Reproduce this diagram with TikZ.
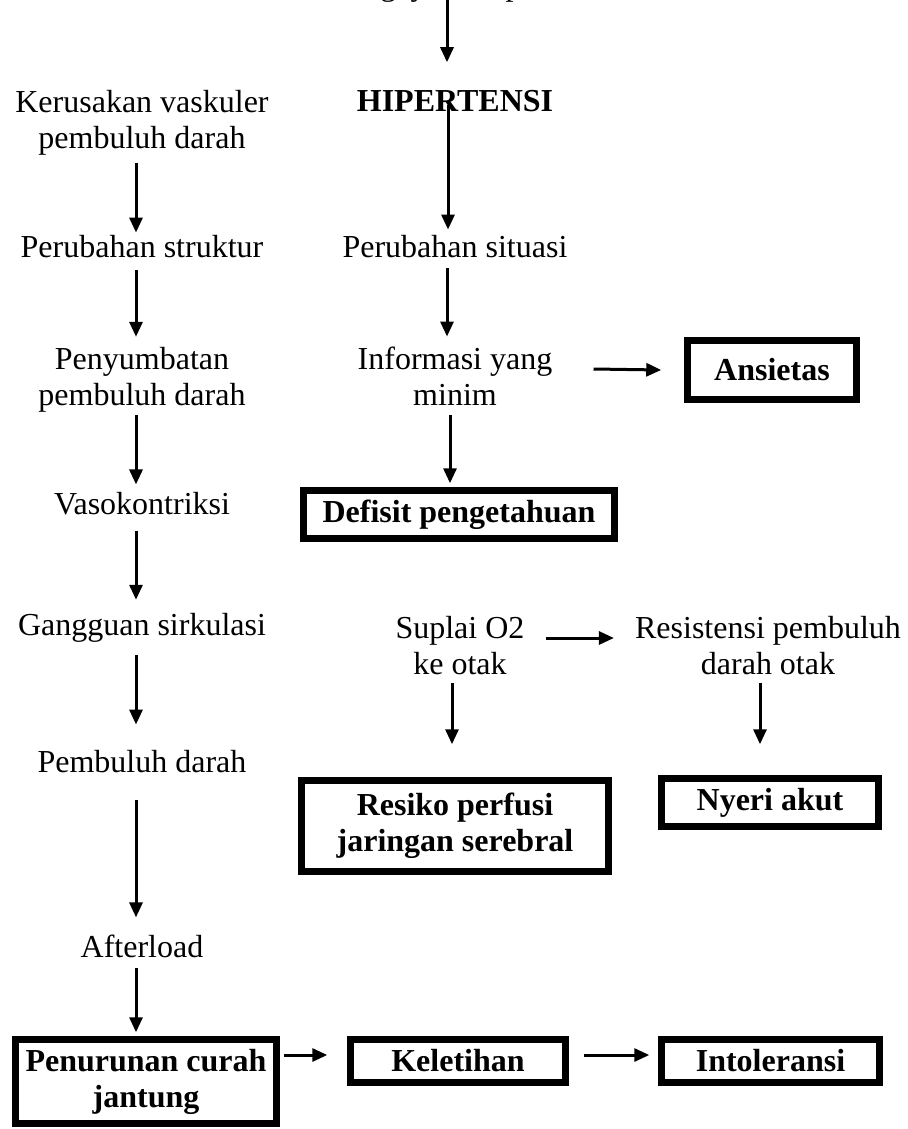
\documentclass[tikz,border=0pt]{standalone}
\usepackage{fontspec}
\setmainfont{Liberation Serif}
\usetikzlibrary{arrows.meta}
\begin{document}
\begin{tikzpicture}[x=1pt,y=-1pt,
  txt/.style={align=center,inner sep=0pt,font=\fontsize{32}{36}\selectfont},
  bx/.style={draw,line width=7.5pt,inner sep=0pt,align=center,font=\fontsize{32}{36}\selectfont\bfseries},
  arr/.style={line width=3pt,-{Triangle[length=15pt,width=13pt]}}]
\useasboundingbox (0,0) rectangle (907,1129);
\fill[white] (0,0) rectangle (907,1129);

% left column
\node[txt] (k1) at (142,122.5) {Kerusakan vaskuler\\pembuluh darah};
\node[txt] (k2) at (142,247) {Perubahan struktur};
\node[txt] (k3) at (142,379.5) {Penyumbatan\\pembuluh darah};
\node[txt] (k4) at (142,504) {Vasokontriksi};
\node[txt] (k5) at (142,628) {Gangguan sirkulasi};
\node[txt] (k6) at (142,762) {Pembuluh darah};
\node[txt] (k7) at (142,946) {Afterload};
\node[bx,minimum width=261pt,minimum height=84pt] (pen) at (146,1081.5) {Penurunan curah\\jantung};

% right column
\node[txt,anchor=base] (top) at (451,-4) {gaya hidup};
\node[txt,font=\fontsize{32}{36}\selectfont\bfseries] (hip) at (455,101.2) {HIPERTENSI};
\node[txt] (ps) at (455,247) {Perubahan situasi};
\node[txt] (inf) at (455,376) {Informasi yang\\minim};
\node[bx,minimum width=169pt,minimum height=59pt] (ans) at (772,370) {Ansietas};
\node[bx,minimum width=311pt,minimum height=48pt] (def) at (459,514.5) {Defisit pengetahuan};
\node[txt] (sup) at (460,646) {Suplai O2\\ke otak};
\node[txt] (rp) at (768,646) {Resistensi pembuluh\\darah otak};
\node[bx,minimum width=307pt,minimum height=91pt] (rsk) at (455,826) {Resiko perfusi\\jaringan serebral};
\node[bx,minimum width=217pt,minimum height=48pt] (ny) at (770,802.5) {Nyeri akut};
\node[bx,minimum width=215pt,minimum height=43pt] (kel) at (458,1061) {Keletihan};
\node[bx,minimum width=218pt,minimum height=43pt] (int) at (770.5,1061) {Intoleransi};

% left arrows
\draw[arr] ([xshift=-6pt,yshift=-8pt]k1.south) -- ([xshift=-6pt,yshift=3pt]k2.north);
\draw[arr] ([xshift=-6pt,yshift=-12pt]k2.south) -- ([xshift=-6pt,yshift=10pt]k3.north);
\draw[arr] ([xshift=-6pt,yshift=-3pt]k3.south) -- ([xshift=-6pt,yshift=8pt]k4.north);
\draw[arr] ([xshift=-6pt,yshift=-15pt]k4.south) -- ([xshift=-6pt,yshift=13.5pt]k5.north);
\draw[arr] ([xshift=-6pt,yshift=-12.5pt]k5.south) -- ([xshift=-6pt,yshift=26pt]k6.north);
\draw[arr] ([xshift=-6pt,yshift=-27pt]k6.south) -- ([xshift=-6pt,yshift=17pt]k7.north);
\draw[arr] ([xshift=-6pt,yshift=-10pt]k7.south) -- ([xshift=-10pt,yshift=3.5pt]pen.north);

% right arrows
\draw[arr] ([xshift=-4pt,yshift=5pt]top.south) -- ([xshift=-8pt,yshift=28pt]hip.north);
\draw[arr] ([xshift=-7pt,yshift=7pt]hip.south) -- ([xshift=-7pt,yshift=6pt]ps.north);
\draw[arr] ([xshift=-8pt,yshift=-10pt]ps.south) -- ([xshift=-8pt,yshift=10pt]inf.north);
\draw[arr] ([xshift=41pt,yshift=7pt]inf.east) -- ([xshift=-22.5pt,yshift=0pt]ans.west);
\draw[arr] ([xshift=-5pt,yshift=-10pt]inf.south) -- ([xshift=-9pt,yshift=3.5pt]def.north);
\draw[arr] ([xshift=21pt,yshift=8pt]sup.east) -- ([xshift=-21pt,yshift=8pt]rp.west);
\draw[arr] ([xshift=-8pt,yshift=-8pt]sup.south) -- ([xshift=-3pt,yshift=32.5pt]rsk.north);
\draw[arr] ([xshift=-8pt,yshift=-8pt]rp.south) -- ([xshift=-10pt,yshift=30.5pt]ny.north);

% bottom arrows
\draw[arr] ([xshift=3.5pt,yshift=26.5pt]pen.east) -- ([xshift=-19.5pt,yshift=6pt]kel.west);
\draw[arr] ([xshift=14.5pt,yshift=6pt]kel.east) -- ([xshift=-8.5pt,yshift=6pt]int.west);
\end{tikzpicture}
\end{document}
